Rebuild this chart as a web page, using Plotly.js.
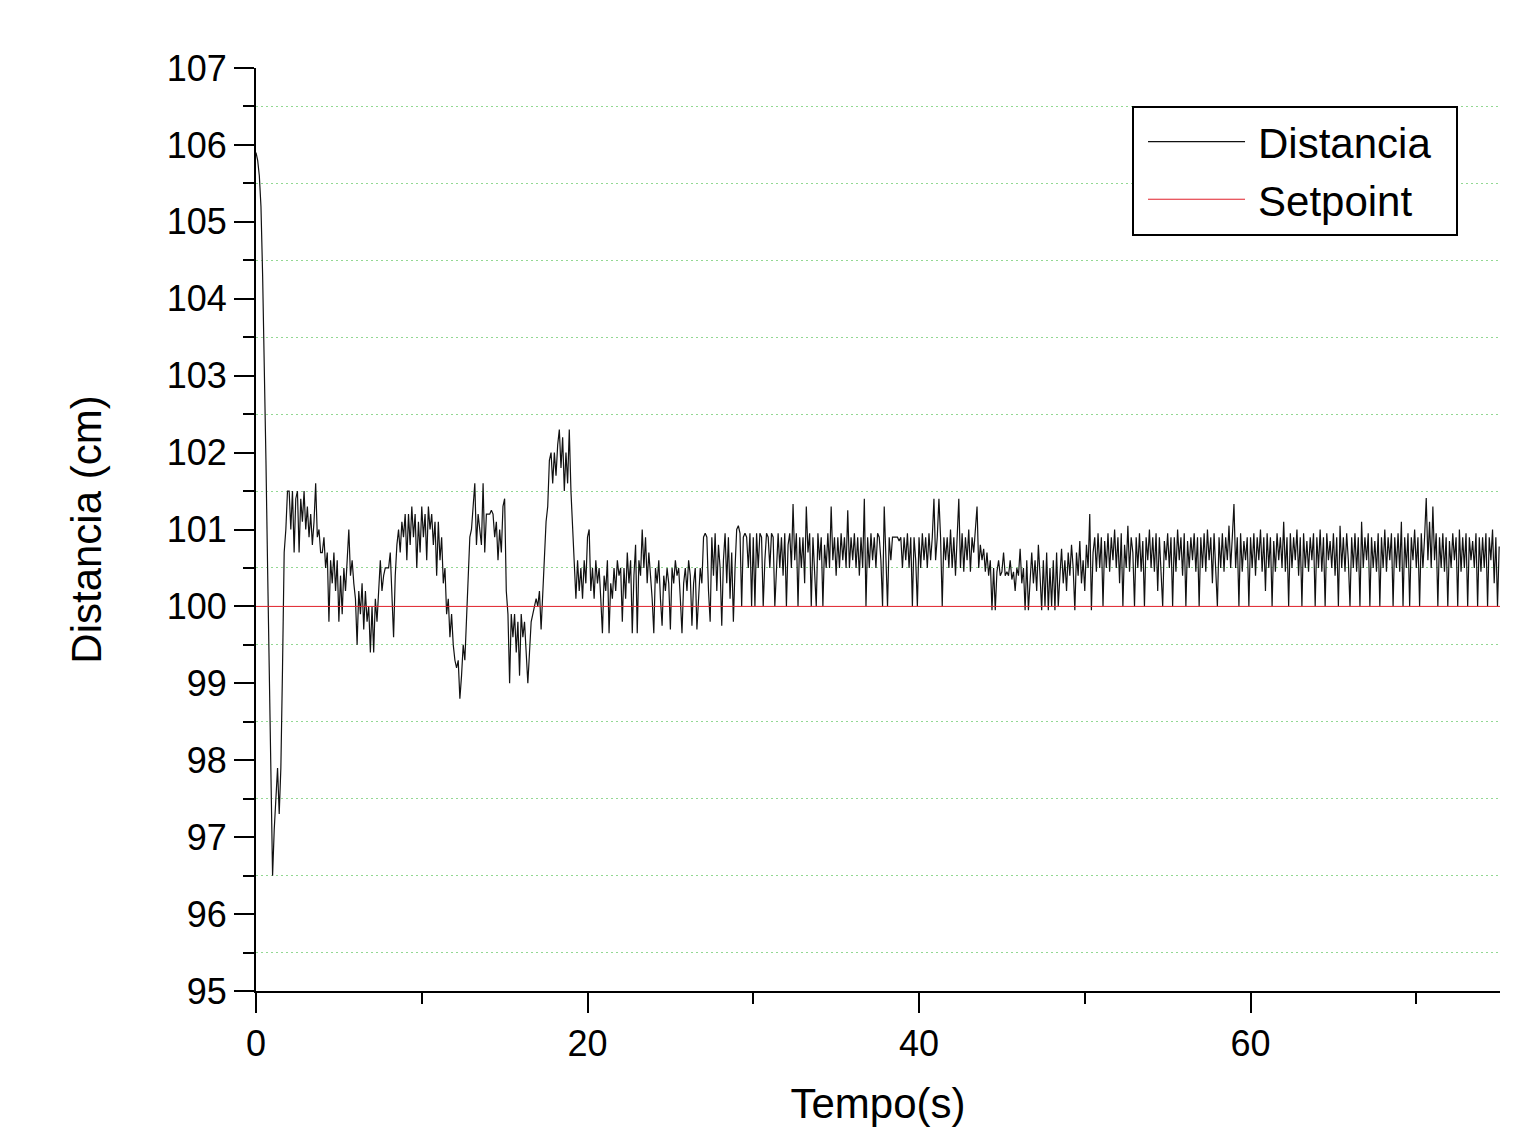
<!DOCTYPE html>
<html><head><meta charset="utf-8">
<script src="https://cdn.plot.ly/plotly-3.0.1.min.js"></script>
<style>html,body{margin:0;padding:0;background:#fff}#chart{width:1522px;height:1127px}</style>
</head><body><div id="chart"></div>
<script>
// Sampling step of the distance signal (s)
const tempoPasso = 0.1;
// Distance readings (cm), one row per second (10 samples each)
const distancia = [
105.9,105.8,105.6,105.2,104.3,103.2,101.9,100.5,99.0,97.7,
96.5,97.1,97.6,97.9,97.3,97.9,99.2,100.7,101.0,101.5,
101.5,101.0,101.5,100.7,101.4,101.5,100.7,101.4,101.1,101.5,
101.0,101.3,100.9,101.2,100.8,101.1,101.6,100.9,101.0,100.7,
100.7,100.9,100.5,100.7,99.8,100.6,100.3,100.7,100.2,100.6,
99.8,100.4,99.9,100.5,100.2,100.7,101.0,100.4,100.6,100.3,
100.1,99.5,100.2,99.9,100.3,99.7,100.2,99.8,100.0,99.4,
100.0,99.4,100.1,99.8,100.3,100.6,100.2,100.4,100.5,100.5,
100.5,100.7,100.2,99.6,100.4,100.8,101.0,100.7,101.1,100.9,
101.2,100.6,101.2,100.8,101.3,100.9,101.2,100.5,101.1,100.7,
101.3,100.9,101.2,100.6,101.3,101.0,101.2,100.8,101.1,100.4,
101.1,100.6,100.9,100.3,100.5,99.9,100.1,99.6,99.9,99.5,
99.3,99.2,99.3,98.8,99.1,99.5,99.3,99.9,100.4,100.9,
101.0,101.35,101.6,100.8,101.2,101.0,100.8,101.6,100.7,101.2,
101.2,101.2,101.25,101.2,100.9,101.1,100.6,101.0,100.7,101.3,
101.4,100.2,99.9,99.0,99.9,99.6,99.9,99.4,99.8,99.1,
99.9,99.6,99.8,99.3,99.0,99.4,99.8,99.9,100.0,100.1,
100.0,100.2,99.7,100.2,100.5,101.1,101.3,101.9,102.0,101.6,
102.0,101.7,102.1,102.3,101.8,102.2,101.5,102.0,101.6,102.3,
101.5,101.0,100.4,100.1,100.6,100.2,100.5,100.1,100.6,100.3,
100.9,101.0,100.2,100.5,100.1,100.6,100.3,100.5,100.1,99.65,
100.4,100.2,100.6,99.65,100.3,100.1,100.5,100.2,100.6,100.4,
100.5,99.8,100.5,100.1,100.7,100.3,100.6,99.65,100.4,100.8,
99.65,100.6,100.4,101.0,100.5,100.9,100.3,100.7,100.4,100.1,
99.65,100.5,100.3,100.6,100.1,99.75,100.4,100.2,100.5,100.3,
99.7,100.5,100.3,100.6,100.4,100.5,100.1,99.65,100.3,100.5,
100.2,100.6,100.4,99.75,100.3,100.5,99.7,100.2,100.5,100.3,
100.9,100.95,100.9,100.2,99.8,100.9,100.4,100.95,100.2,100.8,
100.5,99.75,100.6,100.95,100.3,100.9,100.1,100.7,99.8,100.5,
101.0,101.05,100.95,100.0,100.9,100.95,100.9,100.5,100.95,100.0,
100.9,100.0,100.95,100.5,100.95,100.9,100.0,100.6,100.95,100.9,
100.5,100.95,100.9,100.0,100.6,100.95,100.5,100.9,100.4,100.95,
100.0,100.8,100.95,100.5,101.33,100.6,100.95,100.0,100.9,100.5,
100.9,100.3,101.3,100.7,100.95,100.0,100.9,100.5,100.0,100.95,
100.6,100.9,100.0,100.8,100.5,100.95,100.5,101.3,100.6,100.9,
100.4,100.9,100.5,100.95,100.6,100.9,100.5,101.25,100.5,100.9,
100.6,100.95,100.5,100.9,100.4,100.9,100.5,101.4,100.0,100.9,
100.5,100.95,100.6,100.9,100.5,100.95,100.9,100.6,100.0,101.3,
100.6,100.0,100.9,100.6,100.9,100.9,100.9,100.9,100.85,100.9,
100.5,100.9,100.6,100.95,100.5,100.9,100.0,100.9,100.6,100.0,
100.9,100.5,100.95,100.6,100.9,100.5,100.95,100.6,100.9,101.4,
100.6,100.9,101.4,100.9,100.0,100.9,100.6,100.9,100.5,101.0,
100.5,100.9,100.4,100.95,101.4,100.5,100.95,100.45,100.9,100.6,
101.0,100.45,100.9,100.7,100.95,101.3,100.5,100.8,100.6,100.75,
100.45,100.7,100.4,100.6,99.95,100.5,99.95,100.45,100.6,100.4,
100.45,100.7,100.4,100.45,100.4,100.6,100.35,100.45,100.2,100.5,
100.4,100.75,100.3,100.5,99.95,100.6,99.95,100.4,100.7,100.3,
100.6,100.2,100.8,100.4,99.95,100.6,100.0,100.7,99.95,100.5,
100.0,100.6,99.95,100.7,100.0,100.4,100.75,100.3,100.6,100.2,
100.7,100.4,100.8,100.5,99.95,100.7,100.4,100.85,100.3,100.6,
100.2,100.8,100.5,101.2,99.95,100.7,100.9,100.45,100.95,100.5,
100.9,100.0,100.85,100.5,100.95,100.45,100.9,100.6,101.0,100.5,
100.9,100.3,100.95,100.0,100.8,100.5,101.05,100.45,100.9,100.7,
100.0,100.9,100.5,100.95,100.45,100.85,100.0,100.9,100.6,101.0,
100.5,100.9,100.45,100.95,100.2,100.9,100.5,100.0,100.85,100.6,
100.95,100.5,100.9,100.0,100.9,100.45,101.0,100.6,100.9,100.4,
100.95,100.0,100.85,100.5,100.9,100.6,100.95,100.45,100.9,100.0,
100.9,100.5,100.95,100.45,101.0,100.6,100.9,100.3,100.95,100.5,
100.0,100.9,100.5,100.95,100.45,100.9,100.6,101.05,100.5,100.9,
101.33,100.5,100.9,100.0,100.95,100.45,100.85,100.6,100.9,100.0,
100.9,100.5,100.95,100.4,100.9,100.6,101.0,100.45,100.9,100.2,
100.95,100.5,100.9,100.0,100.85,100.45,100.95,100.6,100.9,100.5,
101.1,100.45,100.9,100.0,100.95,100.5,100.9,100.6,101.0,100.4,
100.9,100.0,100.95,100.5,100.85,100.45,100.9,100.6,100.95,100.0,
100.9,100.5,101.0,100.45,100.9,100.0,100.95,100.6,100.85,100.5,
100.95,100.4,100.9,100.0,101.05,100.5,100.9,100.45,100.95,100.6,
100.0,100.9,100.5,100.95,100.45,100.9,100.0,101.1,100.5,100.9,
100.6,100.95,100.0,100.9,100.5,100.85,100.45,100.95,100.0,100.9,
100.5,101.0,100.45,100.9,100.6,100.95,100.0,100.9,100.5,100.95,
100.45,101.1,100.0,100.9,100.5,100.95,100.0,100.9,100.6,101.0,
100.5,100.9,100.0,100.95,100.5,100.9,101.41,100.6,101.1,100.5,
101.3,100.6,100.95,100.0,100.9,100.5,100.95,100.45,100.9,100.0,
100.85,100.5,100.95,100.6,100.9,100.0,101.0,100.45,100.9,100.5,
100.95,100.0,100.9,100.6,100.85,100.5,100.95,100.0,100.9,100.45,
100.9,100.5,100.95,100.0,100.9,100.6,101.0,100.3,100.9,100.0,
100.78
];
const tempo = distancia.map((_, i) => +(i * tempoPasso).toFixed(1));

// Setpoint line
const setpointTempo = [0, 75.05];
const setpointValor = [100, 100];

const nomeSerie = ['Distancia', 'Setpoint'];
const tituloX = 'Tempo(s)';
const tituloY = 'Distancia (cm)';

const fonte = 'Liberation Sans, Arial, Helvetica, sans-serif';

const traces = [
  {x: tempo, y: distancia, type: 'scatter', mode: 'lines', name: nomeSerie[0],
   line: {color: '#111111', width: 1.2}},
  {x: setpointTempo, y: setpointValor, type: 'scatter', mode: 'lines', name: nomeSerie[1],
   line: {color: '#e0202a', width: 1}}
];

const layout = {
  width: 1522, height: 1127,
  margin: {l: 256, r: 22, t: 68, b: 136},
  paper_bgcolor: '#ffffff', plot_bgcolor: '#ffffff',
  font: {family: fonte, color: '#000', size: 35},
  showlegend: true,
  legend: {
    x: 0.7042, y: 0.959, xanchor: 'left', yanchor: 'top',
    bgcolor: '#ffffff', bordercolor: '#000', borderwidth: 2,
    font: {family: fonte, size: 42, color: '#000'},
    itemwidth: 114, tracegroupgap: 0
  },
  xaxis: {
    range: [0, 75.05], tick0: 0, dtick: 20,
    ticks: 'outside', ticklen: 20, tickwidth: 2, tickcolor: '#000',
    showline: true, linewidth: 2, linecolor: '#000',
    showgrid: false, zeroline: false,
    tickfont: {family: fonte, size: 36, color: '#000'},
    minor: {dtick: 10, ticks: 'outside', ticklen: 11, tickwidth: 2, tickcolor: '#000', showgrid: false},
    title: {text: tituloX, font: {family: fonte, size: 42, color: '#000'}, standoff: 39}
  },
  yaxis: {
    range: [95, 107], tick0: 95, dtick: 1,
    ticks: 'outside', ticklen: 20, tickwidth: 2, tickcolor: '#000',
    showline: true, linewidth: 2, linecolor: '#000',
    showgrid: false, zeroline: false,
    tickfont: {family: fonte, size: 36, color: '#000'},
    minor: {dtick: 0.5, ticks: 'outside', ticklen: 11, tickwidth: 2, tickcolor: '#000',
            showgrid: true, gridcolor: '#93d893', griddash: '2px,3px', gridwidth: 1},
    title: {text: tituloY, font: {family: fonte, size: 42, color: '#000'}, standoff: 52}
  }
};

Plotly.newPlot('chart', traces, layout, {displayModeBar: false, staticPlot: true}).then(function (gd) {
  gd.querySelectorAll('.legendlines path').forEach(function (p) {
    p.setAttribute('d', 'M14,0h97');
  });
  var bg = gd.querySelector('.legend rect.bg');
  if (bg) { bg.setAttribute('width', '324'); }
});
</script>
</body></html>
